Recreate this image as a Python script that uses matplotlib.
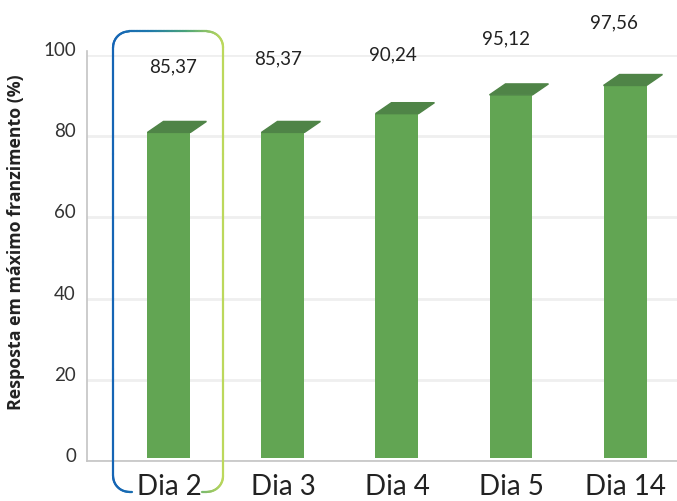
import numpy as np
import matplotlib.pyplot as plt
from matplotlib.patches import Polygon
from matplotlib.collections import LineCollection
from matplotlib.colors import LinearSegmentedColormap

# data
dias = ['Dia 2', 'Dia 3', 'Dia 4', 'Dia 5', 'Dia 14']
resposta = [85.37, 85.37, 90.24, 95.12, 97.56]
rotulos = ['85,37', '85,37', '90,24', '95,12', '97,56']
yticks = [0, 20, 40, 60, 80, 100]

# label placement above each bar (as in the 3D excel chart)
label_dx = [0.04, -0.04, -0.04, -0.04, -0.1]
label_dy = [16.5, 18.3, 14.7, 14.1, 15.6]

front_color = '#62a553'
top_color = '#4f8447'
persp = 0.948      # front face sits a bit lower than the back wall (3D look)
bar_w = 0.377
depth_x, depth_y = 0.14, 2.7

fig = plt.figure(figsize=(6.77, 5.02), dpi=100)
ax = fig.add_axes([0.1285, 0.0797, 0.8715, 0.8088])
ax.set_xlim(-0.719, 4.456)
ax.set_ylim(0, 100)

x = np.arange(len(dias))
for i, v in enumerate(resposta):
    top = v * persp
    ax.bar(x[i], top - 0.8, bottom=0.8, width=bar_w, color=front_color, zorder=3)
    x0, x1 = x[i] - bar_w / 2, x[i] + bar_w / 2
    ax.add_patch(Polygon([(x0, top), (x1, top), (x1 + depth_x, top + depth_y),
                          (x0 + depth_x, top + depth_y)],
                         closed=True, color=top_color, zorder=3))
    ax.text(x[i] + label_dx[i], top + label_dy[i], rotulos[i], ha='center', va='center',
            fontsize=13.5, family='Lato', color='#222222', clip_on=False)

# axes styling
ax.set_yticks(yticks)
# excel draws these a touch above the gridlines -> baseline alignment
ax.set_yticklabels([str(t) for t in yticks], family='Lato', fontsize=13.5,
                   color='#333333', va='baseline')
ax.set_xticks(x)
ax.set_xticklabels(dias, family='Lato', fontsize=20, color='#222222')
ax.tick_params(axis='y', length=0, pad=8)
ax.tick_params(axis='x', length=0, pad=9)
ax.grid(axis='y', color='#efefef', linewidth=2, zorder=0)
ax.set_axisbelow(True)
for s in ['top', 'right']:
    ax.spines[s].set_visible(False)
for s in ['left', 'bottom']:
    ax.spines[s].set_color('#c4c4c4')
    ax.spines[s].set_linewidth(1.2)
ax.spines['left'].set_bounds(0, 101)
ax.set_ylabel('Resposta em máximo franzimento (%)', family='Open Sans',
              fontweight='bold', fontsize=12.8, color='#222222', labelpad=8)
ax.yaxis.set_label_coords(-0.105, 0.542)

# highlight bracket around Dia 2 (gradient blue -> lime)
xl, xr = x[0] - 0.49, x[0] + 0.474
yt, yv, yh = 105.8, -3.7, -7.6
rx, ry = 0.14, 3.9
ends = (x[0] - 0.325, x[0] + 0.29)
t = np.linspace(0, np.pi / 2, 20)
pts = []
pts += list(zip(np.linspace(ends[0], xl + rx, 5), [yh] * 5))
pts += list(zip(xl + rx - rx * np.sin(t), yh + ry - ry * np.cos(t)))
pts += list(zip([xl] * 5, np.linspace(yh + ry, yt - ry, 5)))
pts += list(zip(xl + rx - rx * np.cos(t), yt - ry + ry * np.sin(t)))
pts += list(zip(np.linspace(xl + rx, xr - rx, 30), [yt] * 30))
pts += list(zip(xr - rx + rx * np.sin(t), yt - ry + ry * np.cos(t)))
pts += list(zip([xr] * 5, np.linspace(yt - ry, yh + ry, 5)))
pts += list(zip(xr - rx + rx * np.cos(t), yh + ry - ry * np.sin(t)))
pts += list(zip(np.linspace(xr - rx, ends[1], 5), [yh] * 5))
pts = np.array(pts)
segs = np.stack([pts[:-1], pts[1:]], axis=1)
cmap = LinearSegmentedColormap.from_list('br', ['#1565b5', '#1e78ad', '#4aa37a', '#bcd85c'])
frac = (segs[:, :, 0].mean(axis=1) - xl) / (xr - xl)
lc = LineCollection(segs, colors=cmap(frac), linewidth=1.6, clip_on=False, zorder=5,
                    capstyle='round')
ax.add_collection(lc)

fig.savefig('out.png', dpi=100)
